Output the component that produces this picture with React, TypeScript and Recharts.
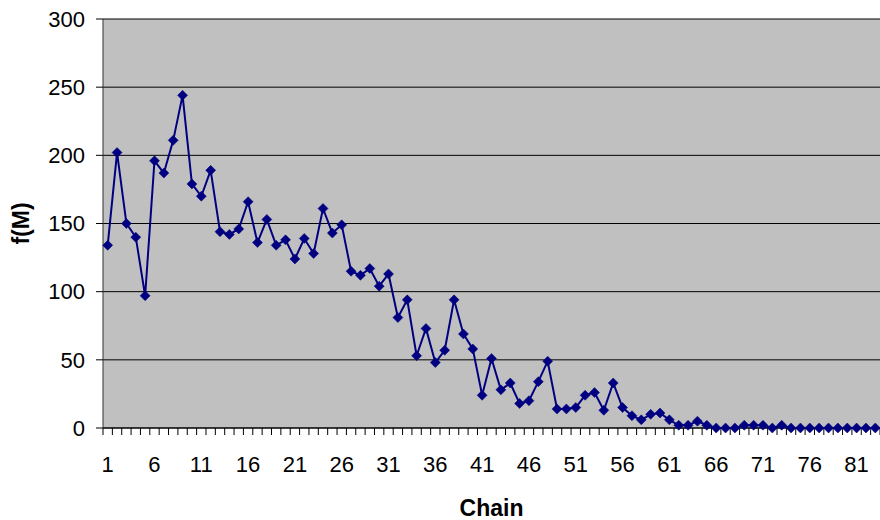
import { CartesianGrid, Line, LineChart, XAxis, YAxis } from 'recharts'

// f(M) per chain
const fValues = [
  134, 202, 150, 140, 97, 196, 187, 211, 244, 179,
  170, 189, 144, 142, 146, 166, 136, 153, 134, 138,
  124, 139, 128, 161, 143, 149, 115, 112, 117, 104,
  113, 81, 94, 53, 73, 48, 57, 94, 69, 58,
  24, 51, 28, 33, 18, 20, 34, 49, 14, 14,
  15, 24, 26, 13, 33, 15, 9, 6, 10, 11,
  6, 2, 2, 5, 2, 0, 0, 0, 2, 2,
  2, 0, 2, 0, 0, 0, 0, 0, 0, 0,
  0, 0, 0,
]

const xLabelTicks = [1, 6, 11, 16, 21, 26, 31, 36, 41, 46, 51, 56, 61, 66, 71, 76, 81]
const yTicks = [0, 50, 100, 150, 200, 250, 300]

const data = fValues.map((f, i) => ({ chain: i + 1, f }))
// tick marks sit between categories, like Excel does
const boundaryTicks = [0.5, ...fValues.map((_, i) => i + 1.5)]
const xDomain = [0.5, fValues.length + 0.5]

const FONT = '"Liberation Sans", Arial, sans-serif'

const Diamond = (props: any) => {
  const { cx, cy } = props
  if (cx == null || cy == null)
    return null
  const r = 5
  return (
    <polygon
      points={`${cx},${cy - r} ${cx + r},${cy} ${cx},${cy + r} ${cx - r},${cy}`}
      fill="#000080"
      stroke="#000080"
      strokeWidth={0.5}
    />
  )
}

export default function App() {
  return (
    <div style={{ position: 'absolute', left: 0, top: 0, background: '#fff' }}>
      <LineChart width={880} height={520} data={data} margin={{ top: 19, right: 0, bottom: 0, left: 0 }}>
        <CartesianGrid xAxisId="b_labels" vertical={false} fill="#C0C0C0" stroke="#000" strokeOpacity={1} />
        <XAxis
          xAxisId="b_labels"
          dataKey="chain"
          type="number"
          domain={xDomain}
          ticks={xLabelTicks}
          height={84}
          tickSize={0}
          tickMargin={20}
          axisLine={false}
          tickLine={false}
          tick={{ fill: '#000', fontSize: 22, fontFamily: FONT }}
          label={{ value: 'Chain', position: 'insideBottom', offset: 4, fill: '#000', fontSize: 23, fontWeight: 'bold', fontFamily: FONT }}
        />
        <XAxis
          xAxisId="a_marks"
          dataKey="chain"
          type="number"
          domain={xDomain}
          ticks={boundaryTicks}
          tickFormatter={() => ''}
          height={8}
          tickSize={7}
          axisLine={{ stroke: '#000' }}
          tickLine={{ stroke: '#000' }}
        />
        <YAxis
          domain={[0, 300]}
          ticks={yTicks}
          width={103}
          tickSize={7}
          tickMargin={11}
          axisLine={{ stroke: '#333' }}
          tickLine={{ stroke: '#000' }}
          tick={{ fill: '#000', fontSize: 22, fontFamily: FONT }}
          label={{ value: 'f(M)', angle: -90, position: 'insideLeft', offset: 21, fill: '#000', fontSize: 23, fontWeight: 'bold', fontFamily: FONT, style: { textAnchor: 'middle' } }}
        />
        <Line
          xAxisId="b_labels"
          dataKey="f"
          stroke="#000080"
          strokeWidth={2}
          dot={<Diamond />}
          activeDot={false}
          isAnimationActive={false}
        />
      </LineChart>
    </div>
  )
}
